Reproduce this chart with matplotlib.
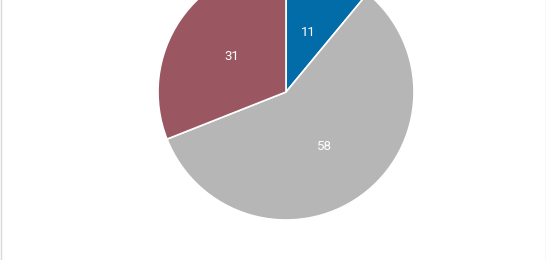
import matplotlib
matplotlib.use("Agg")
import matplotlib.pyplot as plt
from matplotlib.lines import Line2D

# data, clockwise from 12 o'clock
labels = ["11", "58", "31"]
values = [11, 58, 31]
colors = ["#016ca8", "#b6b6b6", "#9a5761"]

W, H = 546, 260
cx, cy, r = 286, 92, 128  # pixel centre (from top) and radius

fig = plt.figure(figsize=(W / 100, H / 100), dpi=100)
fig.patch.set_facecolor("white")
ax = fig.add_axes([(cx - r) / W, (H - cy - r) / H, 2 * r / W, 2 * r / H])

wedges, texts = ax.pie(
    values, colors=colors, labels=labels, startangle=90, counterclock=False,
    labeldistance=0.51, radius=1,
    wedgeprops=dict(edgecolor="white", linewidth=1.2),
    textprops=dict(color="white", fontsize=9.5, family="Roboto"),
)
for t in texts:
    t.set_ha("center")
    t.set_va("center_baseline")
ax.set_xlim(-1, 1)
ax.set_ylim(-1, 1)
ax.axis("off")

# thin frame on the left/right edges
for x in (0.5 / W, 1 - 0.5 / W):
    fig.add_artist(Line2D([x, x], [0, 1], transform=fig.transFigure,
                          color="#d9d9d9", linewidth=1))

fig.savefig("out.png", dpi=100)
